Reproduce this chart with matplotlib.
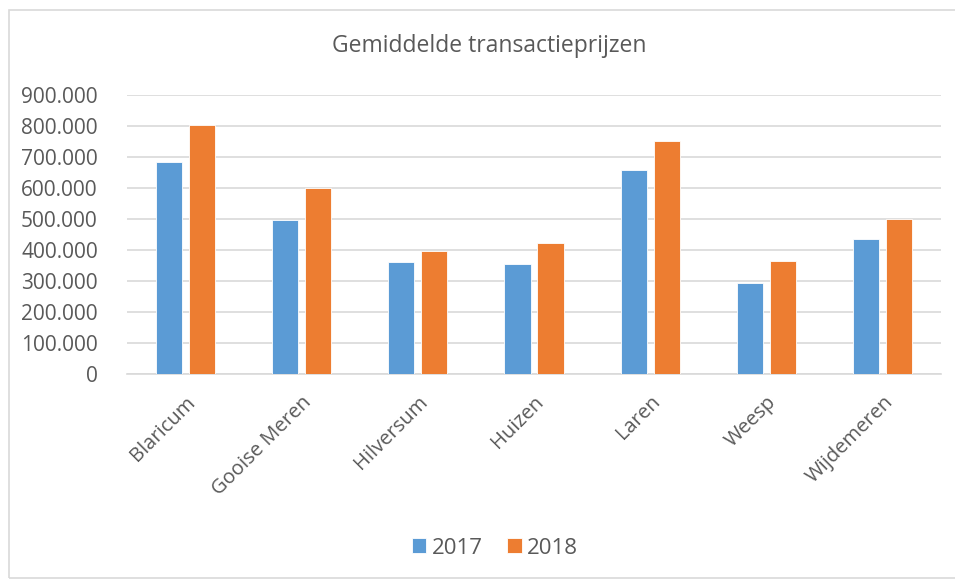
import matplotlib.pyplot as plt
import matplotlib.patches as patches
import numpy as np
from matplotlib.ticker import FuncFormatter

# data
gemeenten = ["Blaricum", "Gooise Meren", "Hilversum", "Huizen", "Laren", "Weesp", "Wijdemeren"]
prijzen_2017 = [683000, 498000, 360000, 356000, 659000, 295000, 434000]
prijzen_2018 = [802000, 600000, 398000, 423000, 752000, 365000, 501000]
jaren = ["2017", "2018"]

blue = "#5B9BD5"
orange = "#ED7D31"
grey_text = "#595959"
grid_col = "#D9D9D9"

plt.rcParams['font.family'] = ['Open Sans', 'DejaVu Sans']

fig = plt.figure(figsize=(9.55, 5.81), dpi=100)
W, H = 955, 581

# outer chart frame
fig.patches.append(patches.Rectangle((9 / W, 3 / H), 1.0, 1 - 13 / H, transform=fig.transFigure,
                                     fill=False, edgecolor=grid_col, linewidth=1.2))

ax = fig.add_axes([127 / W, 1 - 374 / H, (941 - 127) / W, (374 - 95) / H])

x = np.arange(len(gemeenten))
bw = 0.224
off = 0.142
ax.bar(x - off, prijzen_2017, bw, color=blue, edgecolor="white", linewidth=0.6, label=jaren[0], zorder=3)
ax.bar(x + off, prijzen_2018, bw, color=orange, edgecolor="white", linewidth=0.6, label=jaren[1], zorder=3)

ax.set_xlim(-0.5, len(gemeenten) - 0.5)
ax.set_ylim(0, 900000)
ax.set_yticks(np.arange(0, 900001, 100000))
ax.yaxis.set_major_formatter(FuncFormatter(lambda v, p: f"{int(v):,}".replace(",", ".")))
ax.grid(axis="y", color=grid_col, linewidth=1.2, zorder=0)
for s in ["top", "right", "left"]:
    ax.spines[s].set_visible(False)
ax.spines["bottom"].set_color(grid_col)
ax.spines["bottom"].set_linewidth(1.2)
ax.tick_params(axis="both", length=0, labelcolor=grey_text)
ax.tick_params(axis="y", pad=21, labelsize=15)
ax.set_xticks(x)
ax.set_xticklabels(gemeenten, rotation=45, ha="right", va="top", rotation_mode="anchor")
ax.tick_params(axis="x", pad=13, labelsize=14.5)

fig.text(489 / W, 1 - 46 / H, "Gemiddelde transactieprijzen", ha="center", va="center",
         fontsize=16.5, color=grey_text)

ax.legend(loc="center", bbox_to_anchor=(495 / W, 1 - 548 / H), bbox_transform=fig.transFigure,
          ncol=2, frameon=False, fontsize=16, labelcolor=grey_text, handlelength=0.65,
          handleheight=0.65, handletextpad=0.25, columnspacing=1.1)

fig.savefig("out.png", dpi=100)
